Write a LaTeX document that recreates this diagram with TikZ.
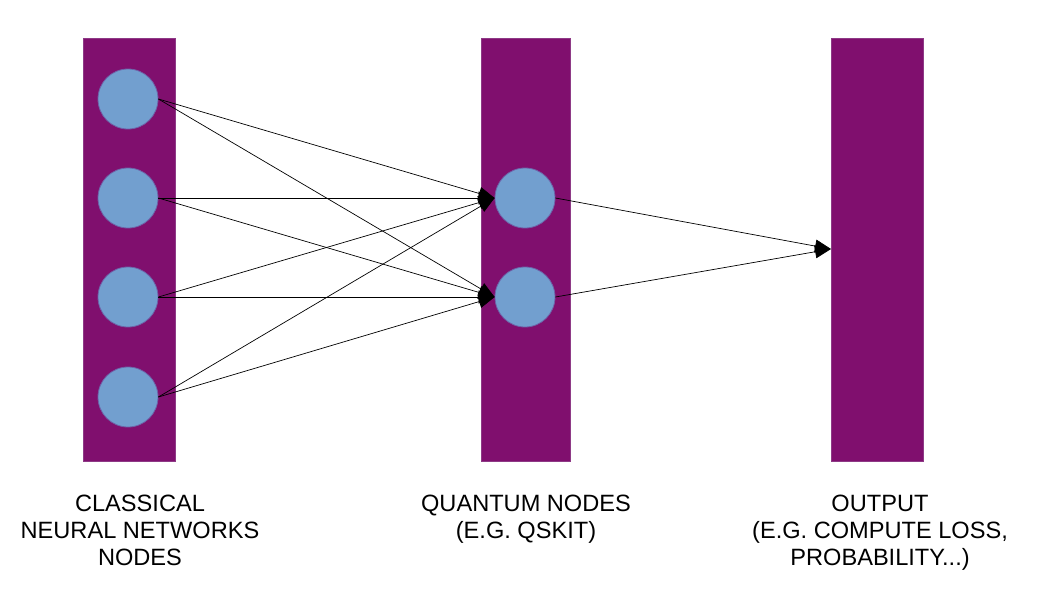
\documentclass[tikz,border=0pt]{standalone}
\usepackage{fontspec}
\setmainfont{Liberation Sans}
\usetikzlibrary{arrows.meta}
\definecolor{barpurple}{HTML}{800F6E}
\definecolor{barborder}{HTML}{8E3A86}
\definecolor{nodeblue}{HTML}{729FCF}
\definecolor{nodeborder}{HTML}{6E62A8}
\begin{document}
\begin{tikzpicture}[x=1pt,y=-1pt,
  bar/.style={draw=barborder,line width=0.8pt,fill=barpurple},
  neuron/.style={circle,draw=nodeborder,line width=0.8pt,fill=nodeblue,minimum size=60pt,inner sep=0pt},
  conn/.style={draw=black,line width=0.7pt,-{Triangle[length=16pt,width=13pt]}},
  label/.style={align=center,anchor=north,inner sep=0pt,font=\fontsize{23.6}{26.8}\selectfont}]
\useasboundingbox (0,0) rectangle (1058,595);
\fill[white] (0,0) rectangle (1058,595);
% bars
\draw[bar] (83,38) rectangle (175,461);
\draw[bar] (481,38) rectangle (570,461);
\draw[bar] (831,38) rectangle (923,461);
\coordinate (out) at (831,249);
% nodes
\node[neuron] (c1) at (128,99) {};
\node[neuron] (c2) at (128,198) {};
\node[neuron] (c3) at (128,297) {};
\node[neuron] (c4) at (128,397) {};
\node[neuron] (q1) at (525,198) {};
\node[neuron] (q2) at (525,297) {};
% connectors
\foreach \c in {c1,c2,c3,c4}{
  \foreach \q in {q1,q2}{
    \draw[conn] (\c.east) -- (\q.west);
  }
}
\draw[conn] (q1.east) -- (out);
\draw[conn] (q2.east) -- (out);
% labels
\node[label] (l1) at (140,495) {CLASSICAL\\NEURAL NETWORKS\\NODES};
\node[label] (l2) at (526,495) {QUANTUM NODES\\(E.G. QSKIT)};
\node[label] (l3) at (880,495) {OUTPUT\\(E.G. COMPUTE LOSS,\\PROBABILITY...)};
\end{tikzpicture}
\end{document}
